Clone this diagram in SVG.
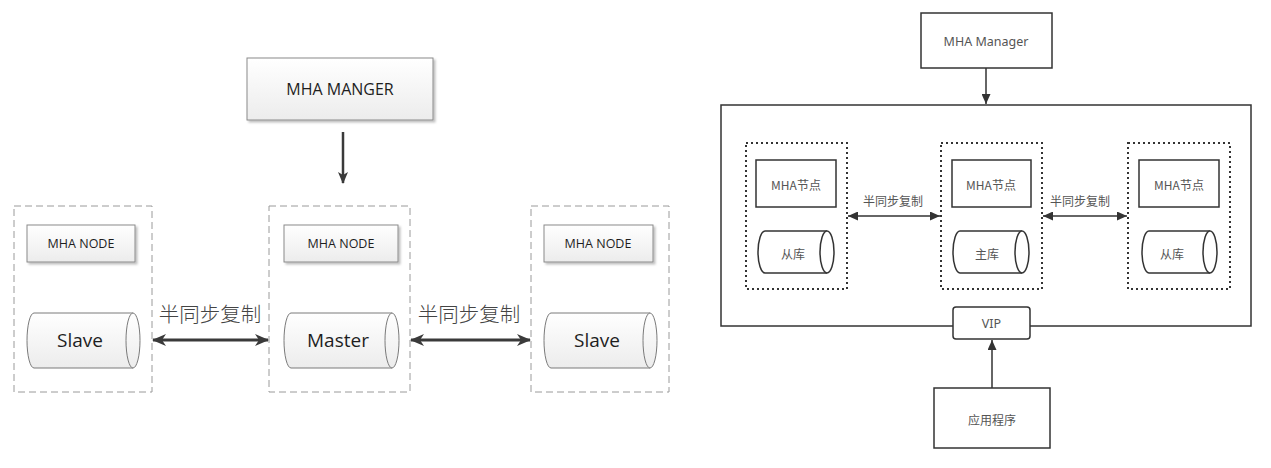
<svg xmlns="http://www.w3.org/2000/svg" width="1271" height="468" viewBox="0 0 1271 468">
<defs>
<linearGradient id="gbox" x1="0" y1="0" x2="0" y2="1">
<stop offset="0" stop-color="#ffffff"/>
<stop offset="1" stop-color="#ececec"/>
</linearGradient>
<filter id="sh" x="-10%" y="-10%" width="130%" height="140%">
<feDropShadow dx="2" dy="2" stdDeviation="1.2" flood-color="#000" flood-opacity="0.25"/>
</filter>
<marker id="ha" viewBox="0 0 14 12" refX="13" refY="6" markerWidth="14" markerHeight="12" markerUnits="userSpaceOnUse" orient="auto-start-reverse">
<path d="M0,0 L14,6 L0,12 L4,6 Z" fill="#3a3a3a"/>
</marker>
<marker id="hb" viewBox="0 0 12 10" refX="11" refY="5" markerWidth="12" markerHeight="10" markerUnits="userSpaceOnUse" orient="auto-start-reverse">
<path d="M0,0 L12,5 L0,10 L3,5 Z" fill="#3a3a3a"/>
</marker>
<marker id="hc" viewBox="0 0 10 9" refX="10" refY="4.5" markerWidth="10" markerHeight="9" markerUnits="userSpaceOnUse" orient="auto-start-reverse">
<path d="M0,0 L10,4.5 L0,9 Z" fill="#333"/>
</marker>
<style>
.lbox{fill:url(#gbox);stroke:#8a8a8a;stroke-width:1;filter:url(#sh)}
.lcont{fill:none;stroke:#9a9a9a;stroke-width:1;stroke-dasharray:7 4}
.lcyl{fill:url(#gbox);stroke:#7a7a7a;stroke-width:1}
.lt{font-family:"Open Sans","Noto Sans",sans-serif;fill:#1e1e1e;text-anchor:middle;dominant-baseline:central}
.lcn{font-family:"Noto Sans CJK SC",sans-serif;font-weight:300;fill:#444;font-size:20.5px;text-anchor:middle;dominant-baseline:central}
.rbox{fill:#fff;stroke:#333;stroke-width:1.5}
.rcont{fill:none;stroke:#333;stroke-width:2;stroke-dasharray:2 3}
.rt{font-family:"Noto Sans","Noto Sans CJK SC",sans-serif;fill:#555;font-size:12.5px;text-anchor:middle;dominant-baseline:central}
.rcn{font-family:"Noto Sans CJK SC",sans-serif;fill:#555;font-size:12px;text-anchor:middle;dominant-baseline:central}
</style>
</defs>
<rect width="1271" height="468" fill="#fff"/>

<!-- Left diagram -->
<g id="l-manager">
<rect class="lbox" x="247" y="58" width="186" height="62"/>
<text class="lt" x="340" y="89" font-size="16">MHA MANGER</text>
</g>
<g id="l-slave1">
<rect class="lcont" x="14" y="206" width="138" height="186"/>
<rect class="lbox" x="27" y="225" width="108" height="37"/>
<text class="lt" x="81" y="243.5" font-size="12.5">MHA NODE</text>
<path class="lcyl" d="M34,313 H133 A7,27.5 0 0 1 133,368 H34 A7,27.5 0 0 1 34,313 Z"/>
<path class="lcyl" d="M133,313 A7,27.5 0 0 0 133,368"/>
<text class="lt" x="80" y="340" font-size="19">Slave</text>
</g>
<g id="l-master">
<rect class="lcont" x="269" y="206" width="141" height="186"/>
<rect class="lbox" x="284" y="225" width="114" height="37"/>
<text class="lt" x="341" y="243.5" font-size="12.5">MHA NODE</text>
<path class="lcyl" d="M291,313 H392 A7,27.5 0 0 1 392,368 H291 A7,27.5 0 0 1 291,313 Z"/>
<path class="lcyl" d="M392,313 A7,27.5 0 0 0 392,368"/>
<text class="lt" x="338" y="340" font-size="19">Master</text>
</g>
<g id="l-slave2">
<rect class="lcont" x="531" y="206" width="138" height="186"/>
<rect class="lbox" x="544" y="225" width="109" height="37"/>
<text class="lt" x="598" y="243.5" font-size="12.5">MHA NODE</text>
<path class="lcyl" d="M551,313 H650 A7,27.5 0 0 1 650,368 H551 A7,27.5 0 0 1 551,313 Z"/>
<path class="lcyl" d="M650,313 A7,27.5 0 0 0 650,368"/>
<text class="lt" x="597" y="340" font-size="19">Slave</text>
</g>
<g id="l-connectors">
<line x1="343" y1="132" x2="343" y2="183" stroke="#3a3a3a" stroke-width="2.5" marker-end="url(#hb)"/>
<line x1="153" y1="340" x2="268" y2="340" stroke="#3a3a3a" stroke-width="3" marker-start="url(#ha)" marker-end="url(#ha)"/>
<line x1="411" y1="340" x2="530" y2="340" stroke="#3a3a3a" stroke-width="3" marker-start="url(#ha)" marker-end="url(#ha)"/>
<text class="lcn" x="210" y="313">半同步复制</text>
<text class="lcn" x="469" y="313">半同步复制</text>
</g>

<!-- Right diagram -->
<g id="r-manager">
<rect class="rbox" x="921" y="13" width="131" height="55"/>
<text class="rt" x="986" y="41">MHA Manager</text>
</g>
<g id="r-cluster">
<rect class="rbox" x="721" y="105" width="530" height="221"/>
</g>
<g id="r-slave1">
<rect class="rcont" x="746" y="143" width="101" height="146"/>
<rect class="rbox" x="756" y="160" width="80" height="47"/>
<text class="rcn" x="796" y="184">MHA节点</text>
<path class="rbox" d="M765,231 H827 A7,21 0 0 1 827,273 H765 A7,21 0 0 1 765,231 Z"/>
<path class="rbox" d="M827,231 A7,21 0 0 0 827,273"/>
<text class="rcn" x="793" y="253">从库</text>
</g>
<g id="r-master">
<rect class="rcont" x="941" y="143" width="101" height="146"/>
<rect class="rbox" x="952" y="160" width="79" height="47"/>
<text class="rcn" x="991" y="184">MHA节点</text>
<path class="rbox" d="M960,231 H1022 A7,21 0 0 1 1022,273 H960 A7,21 0 0 1 960,231 Z"/>
<path class="rbox" d="M1022,231 A7,21 0 0 0 1022,273"/>
<text class="rcn" x="987" y="253">主库</text>
</g>
<g id="r-slave2">
<rect class="rcont" x="1128" y="143" width="102" height="146"/>
<rect class="rbox" x="1139" y="160" width="80" height="47"/>
<text class="rcn" x="1179" y="184">MHA节点</text>
<path class="rbox" d="M1149,231 H1210 A7,21 0 0 1 1210,273 H1149 A7,21 0 0 1 1149,231 Z"/>
<path class="rbox" d="M1210,231 A7,21 0 0 0 1210,273"/>
<text class="rcn" x="1172" y="253">从库</text>
</g>
<g id="r-vip">
<rect class="rbox" x="953" y="307" width="77" height="32" rx="3"/>
<text class="rt" x="991.5" y="323.5">VIP</text>
</g>
<g id="r-app">
<rect class="rbox" x="934" y="388" width="116" height="60"/>
<text class="rcn" x="992" y="419">应用程序</text>
</g>
<g id="r-connectors">
<line x1="986" y1="68" x2="986" y2="104" stroke="#333" stroke-width="1.5" marker-end="url(#hc)"/>
<line x1="848" y1="216" x2="940" y2="216" stroke="#333" stroke-width="1.5" marker-start="url(#hc)" marker-end="url(#hc)"/>
<line x1="1043" y1="216" x2="1127" y2="216" stroke="#333" stroke-width="1.5" marker-start="url(#hc)" marker-end="url(#hc)"/>
<line x1="992" y1="388" x2="992" y2="340" stroke="#333" stroke-width="1.5" marker-end="url(#hc)"/>
<text class="rcn" x="893" y="200" font-size="11">半同步复制</text>
<text class="rcn" x="1080" y="200" font-size="11">半同步复制</text>
</g>
</svg>
